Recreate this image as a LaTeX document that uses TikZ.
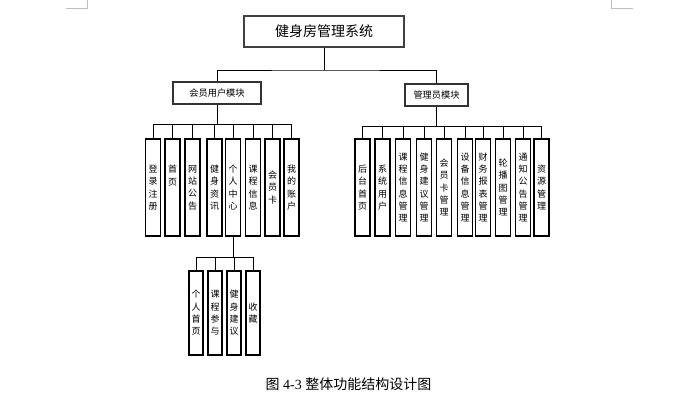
\documentclass[tikz,border=0pt]{standalone}
\usepackage{fontspec}
\setmainfont{Liberation Serif}
\newfontfamily\cjk{Noto Sans CJK SC}

\begin{document}
\begin{tikzpicture}[x=1pt,y=-1pt,semithick,
		every text node part/.style={align=center}]
		\tikzstyle{topbox}=[draw=black!75,line width=1.2pt,minimum width=160pt,minimum height=31pt,inner sep=0pt,font=\cjk\fontsize{14}{16}\selectfont]
		\tikzstyle{modbox}=[draw=black!80,line width=1.1pt,minimum height=22pt,inner sep=0pt,font=\cjk\fontsize{9.2}{11}\selectfont]
		\tikzstyle{leaf}=[draw=black,line width=1.1pt,minimum width=15pt,minimum height=97pt,inner sep=0pt,font=\cjk\fontsize{9}{12.3}\selectfont]
		\tikzstyle{subleaf}=[leaf,minimum width=14pt,minimum height=84pt]
		\tikzstyle{wire}=[draw=black,line width=0.9pt]
		\useasboundingbox (0,0) rectangle (692,412);
		
		% page corner marks
		\draw[gray!50,line width=0.8pt] (66,8) -- (87,8) -- (87,0);
		\draw[gray!50,line width=0.8pt] (611,0) -- (611,8) -- (633,8);
		
		\node[topbox]   (sys)  at (324,31.5)  {健身房管理系统};
		\node[modbox,minimum width=88pt] (mem) at (217,93)   {会员用户模块};
		\node[modbox,minimum width=63pt] (adm) at (436.5,95) {管理员模块};
		
		\coordinate (j0) at (324,70);
		\coordinate (j1) at (217,124);
		\coordinate (j2) at (436.5,126);
		\coordinate (j3) at (233,257);
		
		% member side
		\node[leaf] (dl)  at (153,187.5)   {登\\录\\注\\册};
		\node[leaf] (sy)  at (172.5,187.5) {首\\页\\~\\~};
		\node[leaf] (wz)  at (192.5,187.5) {网\\站\\公\\告};
		\node[leaf] (js)  at (214.5,187.5) {健\\身\\资\\讯};
		\node[leaf] (gr)  at (233,187.5)   {个\\人\\中\\心};
		\node[leaf] (kc)  at (253,187.5)   {课\\程\\信\\息};
		\node[leaf] (hyk) at (272.5,187.5) {会\\员\\卡};
		\node[leaf] (zh)  at (291.5,187.5) {我\\的\\账\\户};
		
		\node[subleaf] (grsy) at (196,313) {个\\人\\首\\页};
		\node[subleaf] (kccy) at (215,313) {课\\程\\参\\与};
		\node[subleaf] (jsjy) at (234,313) {健\\身\\建\\议};
		\node[subleaf] (sc)   at (253,313) {收\\藏};
		
		% admin side
		\node[leaf] (htsy)  at (362.5,187.5) {后\\台\\首\\页};
		\node[leaf] (xtyh)  at (382.5,187.5) {系\\统\\用\\户};
		\node[leaf] (kcgl)  at (403,187.5)   {课\\程\\信\\息\\管\\理};
		\node[leaf] (jygl)  at (424,187.5)   {健\\身\\建\\议\\管\\理};
		\node[leaf] (hkgl)  at (444,187.5)   {会\\员\\卡\\管\\理};
		\node[leaf] (sbgl)  at (465,187.5)   {设\\备\\信\\息\\管\\理};
		\node[leaf] (cwgl)  at (483,187.5)   {财\\务\\报\\表\\管\\理};
		\node[leaf] (lbt)   at (503,187.5)   {轮\\播\\图\\管\\理};
		\node[leaf] (tzgg)  at (523,187.5)   {通\\知\\公\\告\\管\\理};
		\node[leaf] (zygl)  at (541.5,187.5) {资\\源\\管\\理};
		
		\node[font=\fontsize{14}{16}\selectfont] (cap) at (348.5,384) {{\cjk 图} 4-3 {\cjk 整体功能结构设计图}};
		
		\draw[wire] (sys) -- (j0);
		\draw[wire] (mem) |- (j0) -| (adm);
		
		\draw[wire] (mem) -- (j1);
		\draw[wire] (j1) -| (dl);  \draw[wire] (j1) -| (sy);
		\draw[wire] (j1) -| (wz);  \draw[wire] (j1) -| (js);
		\draw[wire] (j1) -| (gr);  \draw[wire] (j1) -| (kc);
		\draw[wire] (j1) -| (hyk); \draw[wire] (j1) -| (zh);
		
		\draw[wire] (gr) -- (j3);
		\draw[wire] (j3) -| (grsy); \draw[wire] (j3) -| (kccy);
		\draw[wire] (j3) -| (jsjy); \draw[wire] (j3) -| (sc);
		
		\draw[wire] (adm) -- (j2);
		\draw[wire] (j2) -| (htsy); \draw[wire] (j2) -| (xtyh);
		\draw[wire] (j2) -| (kcgl); \draw[wire] (j2) -| (jygl);
		\draw[wire] (j2) -| (hkgl); \draw[wire] (j2) -| (sbgl);
		\draw[wire] (j2) -| (cwgl); \draw[wire] (j2) -| (lbt);
		\draw[wire] (j2) -| (tzgg); \draw[wire] (j2) -| (zygl);
		
\end{tikzpicture}
\end{document}
